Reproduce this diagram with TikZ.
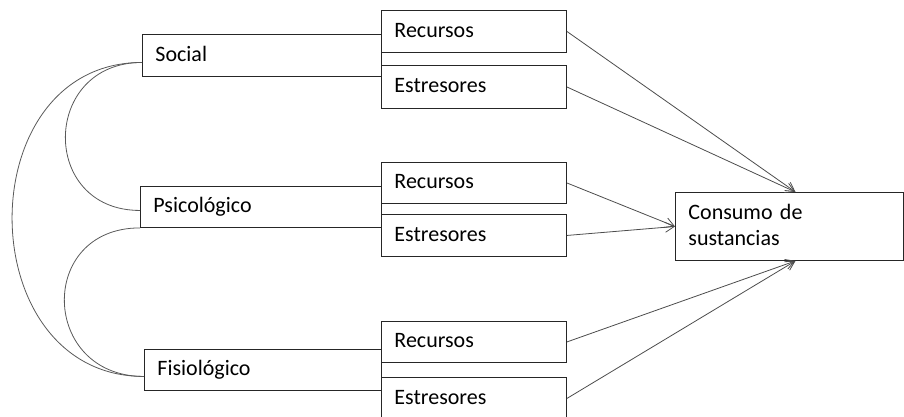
\documentclass[tikz,border=0pt]{standalone}
\usepackage{fontspec}
\setmainfont{Carlito}
\usetikzlibrary{arrows.meta}
\begin{document}
\begin{tikzpicture}[x=1pt,y=-1pt,
  box/.style={draw=black!85, line width=0.9pt, fill=white, rectangle, anchor=north west,
    inner xsep=13pt, inner ysep=0pt, align=left, text height=12pt, text depth=0pt,
    font=\fontsize{22}{26}\selectfont, text=black},
  link/.style={draw=black!65, line width=0.8pt},
  arr/.style={draw=black!70, line width=0.8pt, -{Straight Barb[length=9pt,width=10pt,line width=0.8pt]}}
]
\useasboundingbox (0,0) rectangle (904,416);
\begin{scope}
\clip (0,0) rectangle (904,416);
% left factor boxes
\node[box, minimum width=239pt, minimum height=42pt, text width=213pt] (soc) at (142,34) {Social};
\node[box, minimum width=241pt, minimum height=41pt, text width=215pt] (psi) at (140,186) {Psicológico};
\node[box, minimum width=237pt, minimum height=41pt, text width=211pt] (fis) at (144,349) {Fisiológico};
% sub boxes
\node[box, minimum width=185pt, minimum height=42pt, text width=159pt] (sr) at (381,10) {Recursos};
\node[box, minimum width=185pt, minimum height=43pt, text width=159pt] (se) at (381,65) {Estresores};
\node[box, minimum width=185pt, minimum height=41pt, text width=159pt] (pr) at (381,162) {Recursos};
\node[box, minimum width=185pt, minimum height=42pt, text width=159pt] (pe) at (381,214) {Estresores};
\node[box, minimum width=185pt, minimum height=41pt, text width=159pt] (fr) at (381,321) {Recursos};
\node[box, minimum width=185pt, minimum height=46pt, text width=159pt, text depth=4pt] (fe) at (381,377) {Estresores};
% outcome
\node[box, minimum width=228pt, minimum height=68pt, text width=202pt, text height=12pt, text depth=26pt] (cons) at (675,192) {Consumo de\\sustancias};
% curved links
\draw[link] ([yshift=-7pt]soc.west) to[out=180,in=180,looseness=1.74] ([yshift=-3.5pt]psi.west);
\draw[link] ([yshift=-7pt]soc.west) to[out=180,in=180,looseness=1.42] ([yshift=-6.5pt]fis.west);
\draw[link] (psi.south west) to[out=180,in=180,looseness=1.78] ([yshift=-6.5pt]fis.west);
% arrows
\draw[arr] (sr.east) -- ([xshift=6pt]cons.north);
\draw[arr] (se.east) -- ([xshift=6pt]cons.north);
\draw[arr] (pr.east) -- (cons.west);
\draw[arr] (pe.east) -- (cons.west);
\draw[arr] (fr.east) -- ([xshift=6pt]cons.south);
\draw[arr] ([yshift=2pt]fe.east) -- ([xshift=6pt]cons.south);
\end{scope}
\end{tikzpicture}
\end{document}
